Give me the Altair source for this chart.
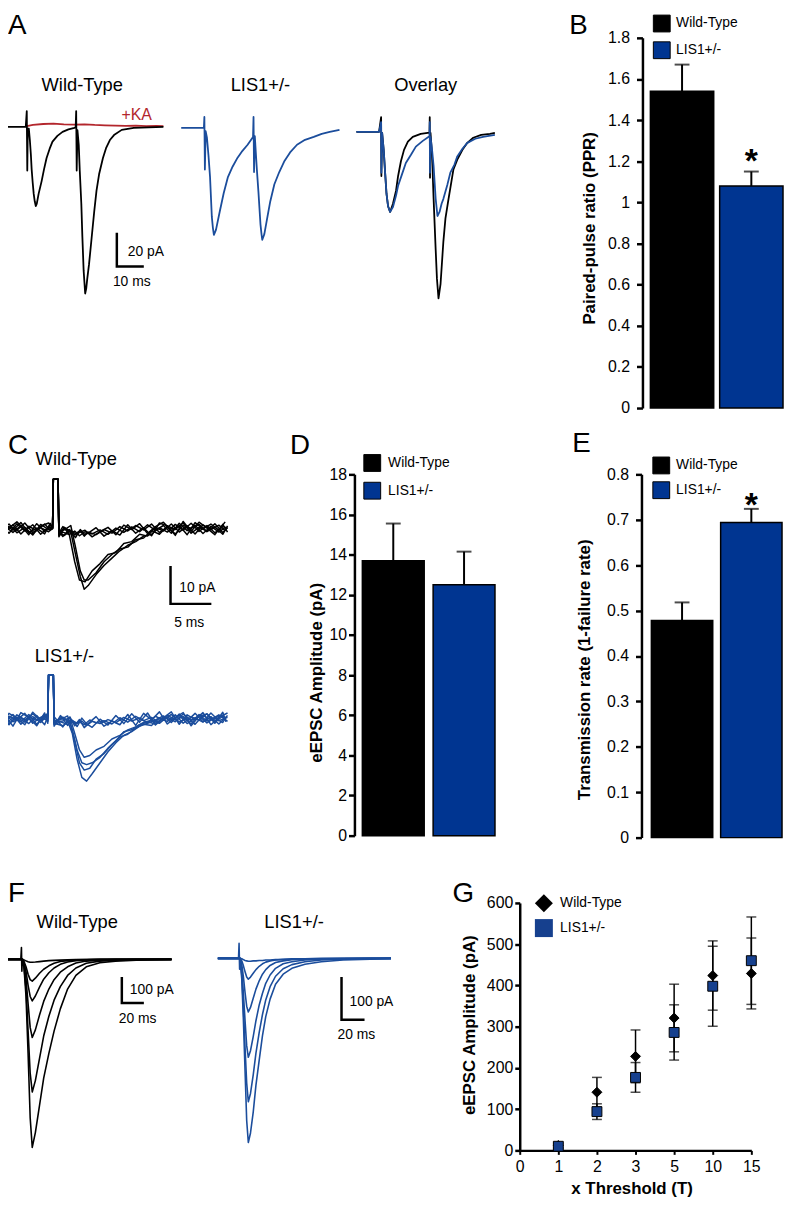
import altair as alt
import pandas as pd

FONT = "Liberation Sans"
W, H = 784, 1197          # chart size (chart origin sits at page (8, 8))
M = 8                     # page margin

BLACK = "#000000"
TRACE_BLUE = "#1b4d9c"
BAR_BLUE = "#003591"
MARK_BLUE = "#16408e"
KA_RED = "#b3262c"

GROUPS = ["Wild-Type", "LIS1+/-"]

# ---------------- Panel A : paired-pulse traces (ms, pA) ----------------
A_WT_T = [0, 9.2, 9.6, 9.8, 10.0, 10.4, 10.8, 11.2, 11.5, 11.9, 12.3, 12.7, 13.1, 13.5, 14.2, 15.4,
          16.3, 17.3, 18.5, 19.6, 21.5, 23.5, 25.8, 28.1, 28.6, 28.8, 29.0, 29.3, 29.8, 30.2, 30.8,
          31.2, 31.7, 32.3, 32.7, 33.1, 33.8, 34.8, 35.8, 36.7, 37.7, 39.2, 40.4, 41.9, 43.5, 46.5,
          51.2, 62.7]
A_WT_I = [0, 0, 9.7, -26.7, -1, -1, -8, -17, -26, -34, -41, -45.5, -48.5, -47, -41, -33,
          -26, -19, -13.3, -9, -5.5, -3, -1.5, -0.6, -0.3, 9.7, -26.7, -2, -11, -27, -47,
          -67, -88, -102, -99, -93, -84, -68, -52, -39, -29, -19, -13, -8, -5, -1.8,
          -0.6, 0]
A_KA_T = [9.6, 12, 16, 20, 24, 28, 32, 36, 40, 44, 48, 52, 56, 60, 62.7]
A_KA_I = [0.5, 1.2, 1.8, 2.0, 1.6, 1.4, 1.6, 1.2, 1.0, 0.8, 0.6, 0.8, 0.5, 0.6, 0.5]
A_LIS_T = [0, 8.8, 9.0, 9.2, 9.5, 10.0, 10.6, 11.2, 11.9, 12.3, 12.7, 13.5, 15.0, 16.5, 18.1, 20.0,
           21.9, 23.8, 25.8, 27.9, 28.1, 28.3, 28.6, 28.8, 29.4, 30.0, 30.8, 31.2, 31.5, 32.3, 33.5,
           34.6, 36.2, 38.1, 40.0, 42.3, 45.0, 48.1, 51.5, 54.6, 57.7, 61.5]
A_LIS_I = [0, 0, 6.7, -25.5, -2, -6, -17, -30, -54.5, -61, -65.5, -62.4, -51, -40, -30.3, -23.6,
           -18.2, -14, -10.3, -5.5, 6.7, -27, -5, -10.3, -25.5, -39, -59, -65, -68.5, -65, -54.5,
           -45, -34.5, -27, -20.6, -15, -10.3, -7.3, -5.5, -3.6, -2.4, -1.2]
A_OV_WT_T = [0, 8.8, 9.6, 9.7, 10.0, 10.6, 11.2, 11.7, 12.3, 13.1, 14.2, 15.4, 16.2, 17.3, 18.5, 20.0,
             21.9, 25.0, 27.7, 28.4, 28.5, 28.6, 28.8, 29.4, 30.0, 30.8, 31.3, 31.9, 32.7, 33.8, 34.6,
             35.8, 37.7, 39.2, 41.2, 43.1, 45.4, 48.5, 51.9, 53.8]
A_OV_WT_I = [0, 0, 9, -27, -0.6, -11, -26, -38, -45.5, -49, -44, -36, -27, -18, -11, -6,
             -3, -1.2, -0.6, -0.6, 9, -28, -0.6, -14, -41, -72, -90, -102, -93, -67, -53,
             -41, -23, -17, -11, -6.7, -3.6, -1.8, -1.2, -0.6]
A_OV_LIS_T = [0, 8.8, 9.6, 9.7, 10.0, 10.6, 11.2, 11.7, 12.3, 13.1, 14.2, 15.4, 16.2, 17.7, 19.2, 21.2,
              23.1, 25.8, 28.1, 28.4, 28.5, 28.6, 28.8, 29.4, 30.0, 30.8, 31.5, 32.3, 33.1, 33.8, 35.4,
              36.5, 38.1, 39.2, 41.2, 43.1, 46.2, 49.2, 53.8]
A_OV_LIS_I = [0, 0, 6, -25, -0.6, -11, -26, -38, -45.5, -49, -46, -39, -33, -26, -19, -14,
              -9, -5.5, -3, -3, 6, -25, -3, -11, -21, -41, -51.5, -49, -44, -41, -32,
              -25, -20, -15, -10.3, -6.7, -4.2, -3, -1.8]

# ---------------- Panel B : paired-pulse ratio ----------------
B_MEAN = [1.54, 1.08]
B_SEM = [0.13, 0.07]
B_STAR = ["LIS1+/-"]
B_TICKS = [0, 0.2, 0.4, 0.6, 0.8, 1, 1.2, 1.4, 1.6, 1.8]

# ---------------- Panel C : minimal stimulation sweeps (ms, pA) ----------------
C_TA = [0, 1, 2, 3, 4, 5, 6, 6.5, 6.6, 7.2, 7.3, 8, 8.8, 9.4, 10, 10.5, 11, 12, 13, 14, 15, 16, 17,
        18, 19, 20, 21, 22, 23, 24, 25, 26, 27, 28, 28.6]
C_TB = [0.5, 1.5, 2.5, 3.5, 4.5, 5.5, 6.2, 6.5, 6.6, 7.2, 7.3, 7.8, 8.6, 9.3, 9.9, 10.6, 11.5, 12.5,
        13.5, 14.5, 15.5, 16.5, 17.5, 18.5, 19.5, 20.5, 21.5, 22.5, 23.5, 24.5, 25.5, 26.5, 27.5, 28.3]
C_WT_S1 = [0.8, -1.2, 1.4, -0.6, 1.1, -1.5, 0.5, 0.2, 13.5, 13.5, -1.5, 0.4, -0.8, -7, -13, -16.5,
           -15.5, -12.5, -10, -8, -6, -4.5, -3.5, -2, -1.5, 0.3, -0.9, 1.2, -0.4, 1.5, -0.7, 0.9,
           -1.1, 0.6, 0.2]
C_WT_S2 = [-0.9, 1.1, -1.4, 0.7, -0.5, 1.3, -0.3, 0, 13.5, 13.5, -1.2, 0.6, -1.4, -9, -14, -14.5,
           -11.5, -9.5, -7, -6.5, -4, -3.5, -1.5, -2, 0.4, -0.6, 1.3, -0.9, 0.8, -1.4, 1.1, -0.2,
           1.0, -0.5]
C_WT_S3 = [-1.3, 0.6, -0.4, 1.6, -1.0, 0.3, -0.8, 0.1, 13.5, 13.5, -0.8, -0.3, 0.9, -5, -11.5, -14,
           -14, -12, -9, -7, -5.5, -5, -3, -2.5, -0.5, -1.5, 0.8, -0.2, 1.6, -1.2, 0.4, -0.6, 1.4,
           -1.0, 0.3]
C_WT_S4 = [0.6, -1.0, 0.9, -1.6, 1.4, -0.7, 1.0, 0.2, 13.5, 13.5, -1.8, -0.9, -1.6, -0.6, -1.9,
           -0.8, -1.4, -0.3, -1.5, 0.2, -1.0, 0.5, -0.8, 1.1, -0.4, 0.9, -1.2, 1.5, -0.5, 1.0, -1.3,
           0.7, -0.9, 0.4]
C_WT_S5 = [-0.5, 1.3, -1.1, 0.4, -1.7, 1.2, -0.2, 0.3, 13.5, 13.5, -1.0, -1.8, -0.4, -1.3, -0.5,
           -2.0, -0.9, -1.6, -0.2, -1.2, 0.6, -0.6, 0.9, -0.3, 1.3, -1.0, 0.4, -1.4, 0.9, 0.1, 1.2,
           -0.8, 0.5, -1.5, 0.8]
C_WT_S6 = [1.2, -0.4, 1.7, -1.1, 0.2, -1.4, 1.5, 0.1, 13.5, 13.5, -0.7, -2.1, -0.2, -1.7, -1.0, -0.4,
           -2.2, -0.8, 0.4, -1.6, 1.0, -0.2, 1.4, -1.3, 0.6, 1.8, -0.5, 0.9, -1.6, 1.7, 0.0, 1.3,
           -0.4, 1.9]
C_WT_S7 = [-1.8, 0.2, 1.9, -0.3, -1.4, 0.7, 1.6, 0.4, 13.5, 13.5, -2.2, 0.3, -1.1, -2.4, -0.2, -1.5,
           -1.2, 0.3, -2.0, -0.5, -1.7, 1.1, -1.2, 0.3, -1.9, 1.6, 0.8, -1.8, 2.0, -0.7, 1.8, 0.2,
           -1.6, 1.2, -0.9]
C_LA = [0, 1, 2, 3, 4, 5, 5.9, 6.0, 6.6, 6.7, 7.5, 8.4, 9.0, 9.6, 10.2, 10.8, 11.5, 12.5, 13.5, 14.5,
        15.5, 16.5, 17.5, 18.5, 19.5, 20.5, 21.5, 22.5, 23.5, 24.5, 25.5, 26.5, 27.5, 28.6]
C_LB = [0.5, 1.5, 2.5, 3.5, 4.5, 5.5, 5.9, 6.0, 6.6, 6.7, 7.8, 8.7, 9.3, 9.9, 10.5, 11.2, 12, 13, 14,
        15, 16, 17, 18, 19, 20, 21, 22, 23, 24, 25, 26, 27, 28, 28.4]
C_LIS_S1 = [1.0, -1.3, 0.5, -0.9, 1.4, -0.6, 0.8, 12, 12, -1.0, 0.3, -0.5, -4, -11, -16, -17, -15,
            -12, -9, -6.5, -4.5, -3.5, -2, -1.2, -0.3, 0.8, -1.0, 1.3, -0.6, 1.5, -0.8, 0.6, -1.4, 0.9]
C_LIS_S2 = [-0.7, 1.2, -1.5, 0.6, -0.4, 1.1, 0.2, 12, 12, -1.4, 0.5, -0.9, -6, -12, -14, -13.5, -11,
            -9.5, -7, -5, -4.2, -2.5, -1.5, -1.8, 0.2, -0.7, 1.1, -1.2, 0.5, -0.3, 1.4, -0.9, 0.7, -0.2]
C_LIS_S3 = [-1.1, 0.7, -0.3, 1.5, -1.2, 0.4, -0.5, 12, 12, -0.6, -0.2, 0.8, -3, -8.5, -12, -12.5, -12,
            -10.5, -8, -6, -3.5, -3, -1.6, -0.8, -1.4, 0.6, -0.4, 0.9, -1.3, 0.2, -0.9, 1.6, -0.5, 0.4]
C_LIS_S4 = [1.4, -0.8, 0.3, -1.3, 0.9, -1.6, 0.6, 12, 12, -0.9, -0.6, 0.4, -4, -8.5, -10.5, -10, -8.5,
            -7.5, -5.5, -4.5, -3, -2.2, -1, -0.4, -1.2, 0.5, -0.8, 1.3, -0.3, 0.8, -1.1, 0.3, 1.0, -0.6]
C_LIS_S5 = [0.4, -1.6, 1.1, -0.2, 0.6, -1.0, 1.2, 12, 12, -1.6, -0.8, -1.5, -0.5, -1.2, -0.6, -1.8,
            -0.7, -1.3, -0.2, -1.0, 0.4, -0.6, 0.2, -1.1, 0.7, -0.4, 1.2, -0.9, 0.3, -1.5, 0.9, -0.2,
            1.1, -0.7]
C_LIS_S6 = [-1.4, 0.3, -0.8, 1.2, -1.5, 0.9, -0.7, 12, 12, -1.2, -1.9, -0.4, -1.3, -0.8, -1.6, -0.3,
            -1.1, -0.5, -1.4, 0.3, -0.9, 0.7, -0.5, 0.4, -1.2, 1.0, -0.3, 0.6, -1.4, 1.2, -0.6, 0.2,
            -1.0, 0.5]
C_LIS_S7 = [-1.9, 1.5, 0.2, -1.6, 1.8, -0.3, 1.5, 12, 12, -2.0, 0.9, -1.8, -0.4, -2.1, 0.2, -1.4,
            -2.3, -0.1, -1.7, 0.9, -1.3, 1.4, -0.9, 1.6, -1.7, 0.3, 1.9, -1.5, 1.1, -0.2, 1.7, -1.6,
            0.4, 1.6]
C_LIS_S8 = [0.9, -2.0, 1.7, 0.4, -1.9, 1.6, -1.2, 12, 12, 0.6, -2.2, 0.5, -1.9, -0.2, -2.4, -0.9,
            0.6, -2.0, -0.6, -1.6, 1.2, -1.8, 1.5, -0.3, 1.9, -1.4, 0.4, 1.7, -1.9, 0.7, 1.3, -1.2,
            1.8, -0.8]

# ---------------- Panel D / E : bar summaries ----------------
D_MEAN = [13.7, 12.5]
D_SEM = [1.85, 1.65]
D_TICKS = [0, 2, 4, 6, 8, 10, 12, 14, 16, 18]
E_MEAN = [0.478, 0.694]
E_SEM = [0.04, 0.03]
E_STAR = ["LIS1+/-"]
E_TICKS = [0, 0.1, 0.2, 0.3, 0.4, 0.5, 0.6, 0.7, 0.8]

# ---------------- Panel F : input-output sweeps (ms, pA) ----------------
F_WT_T = [0, 19, 19.6, 20, 20.5, 22, 24, 26, 28, 30, 33, 37, 41, 46, 51, 57, 64, 72, 82, 95, 110, 130, 164]
F_WT_S6 = [0, 0, 48, -48, -4, -30, -150, -380, -640, -760, -700, -590, -480, -380, -290, -200, -120,
           -65, -30, -14, -7, -3, 0]
F_WT_S5 = [0, 0, 0, 0, 0, -25, -120, -290, -460, -536, -490, -400, -310, -230, -165, -110, -65, -35,
           -16, -7, -3, -1, 0]
F_WT_S4 = [0, 0, 0, 0, 0, -18, -80, -180, -275, -316, -285, -225, -170, -120, -82, -52, -30, -15, -7,
           -3, -1, 0, 0]
F_WT_S3 = [0, 0, 0, 0, 0, -12, -50, -105, -150, -168, -148, -112, -80, -54, -35, -20, -11, -5, -2, -1,
           0, 0, 0]
F_WT_S2 = [0, 0, 0, 0, 0, -8, -30, -60, -82, -88, -76, -56, -40, -26, -16, -9, -5, -2, -1, 0, 0, 0, 0]
F_WT_S1 = [0, 0, 0, 0, 0, -2, -6, -10, -12, -12, -11, -9, -7, -5, -4, -3, -2, -1, -1, 0, 0, 0, 0]
F_LIS_T = [0, 19, 19.5, 20, 20.5, 22, 23.5, 25, 26.5, 28, 30, 32.5, 35, 38, 41, 44, 48, 53, 60, 68, 80,
           95, 115, 140, 159]
F_LIS_S6 = [0, 0, 36, -26, -5, -50, -150, -270, -390, -443, -420, -370, -305, -245, -186, -140, -98,
            -62, -38, -24, -14, -8, -4, -2, 0]
F_LIS_S5 = [0, 0, 0, 0, 0, -40, -120, -215, -300, -345, -325, -280, -228, -178, -135, -100, -68, -43,
            -25, -15, -8, -4, -2, -1, 0]
F_LIS_S4 = [0, 0, 0, 0, 0, -28, -85, -150, -210, -238, -222, -188, -150, -112, -84, -60, -40, -24, -13,
            -8, -4, -2, -1, 0, 0]
F_LIS_S3 = [0, 0, 0, 0, 0, -15, -45, -82, -115, -129, -118, -96, -74, -54, -38, -27, -17, -10, -6, -3,
            -2, -1, 0, 0, 0]
F_LIS_S2 = [0, 0, 0, 0, 0, -6, -18, -32, -45, -50, -45, -36, -27, -19, -13, -9, -6, -4, -2, -1, -1, 0,
            0, 0, 0]
F_LIS_S1 = [0, 0, 0, 0, 0, -1, -3, -5, -6, -7, -7, -6, -6, -5, -5, -4, -4, -3, -3, -2, -2, -1, -1, 0, 0]

# ---------------- Panel G : input-output curve ----------------
G_XDOMAIN = ["0", "1", "2", "3", "5", "10", "15"]
G_X = ["1", "2", "3", "5", "10", "15"]
G_WT_MEAN = [12, 141, 228, 321, 424, 429]
G_WT_SEM = [6, 36, 64, 82, 84, 86]
G_LIS_MEAN = [10, 94, 177, 286, 398, 460]
G_LIS_SEM = [5, 19, 36, 67, 97, 106]
G_TICKS = [0, 100, 200, 300, 400, 500, 600]

# scale-bar definitions (corner time, corner current, length ms, length pA)
SB_A = (44.6, -85.5, 10, 20)
SB_C = (21.4, -20.5, 5, 10)
SB_F_WT = (116.2, -176, 20, 100)
SB_F_LIS = (113.6, -147.6, 20, 100)

TITLE_SIZE = 17


# ======================= helpers =======================
def trace_scales(x0, y0, px_ms, px_pa, tmax, imin, imax):
    xs = alt.Scale(domain=[0, tmax], range=[x0 - M, x0 - M + tmax * px_ms], nice=False, zero=False)
    ys = alt.Scale(domain=[imin, imax], range=[y0 - M - imin * px_pa, y0 - M - imax * px_pa],
                   nice=False, zero=False)
    return xs, ys


def traces(sweeps, color, xs, ys, width=1.6):
    frames = []
    for k, (T, I) in enumerate(sweeps):
        assert len(T) == len(I), (color, k, len(T), len(I))
        frames.append(pd.DataFrame({"t": T, "I": I, "i": list(range(len(T))), "sweep": k}))
    df = pd.concat(frames, ignore_index=True)
    return alt.Chart(df).mark_line(color=color, strokeWidth=width, strokeJoin="round").encode(
        x=alt.X("t:Q", scale=xs, axis=None),
        y=alt.Y("I:Q", scale=ys, axis=None),
        detail="sweep:N",
        order="i:Q",
    )


def scale_bar(sb, xs, ys):
    t0, i0, dt, di = sb
    df = pd.DataFrame({"t": [t0, t0, t0 + dt], "I": [i0 + di, i0, i0], "i": [0, 1, 2]})
    return alt.Chart(df).mark_line(color="black", strokeWidth=2.5, strokeJoin="miter",
                                   strokeCap="square").encode(
        x=alt.X("t:Q", scale=xs, axis=None), y=alt.Y("I:Q", scale=ys, axis=None), order="i:Q")


def text(s, x, y, size, weight="normal", color="black", align="center"):
    return alt.Chart(pd.DataFrame({"s": [s]})).mark_text(
        font=FONT, fontSize=size, fontWeight=weight, color=color, align=align, baseline="alphabetic"
    ).encode(text="s:N", x=alt.value(x - M), y=alt.value(y - M))


def legend(x, y, off, rowpad, size=289, stype=None):
    kw = dict(orient="none", legendX=x - M, legendY=y - M, title=None, symbolSize=size,
              symbolStrokeColor="black", symbolStrokeWidth=1, symbolOpacity=1,
              labelFontSize=14, labelOffset=off, rowPadding=rowpad, padding=0)
    if stype:
        kw["symbolType"] = stype
    return alt.Legend(**kw)


def left_axis(axis_x, ticks, title, title_xy, lab_pad, tick_size=6):
    return alt.Axis(orient="left", offset=-(axis_x - M), values=ticks, format="~r",
                    domainWidth=2.5, tickWidth=2.5, tickSize=tick_size, labelFontSize=16,
                    labelPadding=lab_pad, grid=False, title=title, titleFontSize=TITLE_SIZE,
                    titleFontWeight="bold", titleAngle=270, titleAlign="center",
                    titleBaseline="middle", titleX=title_xy[0] - axis_x, titleY=title_xy[1] - M)


def bar_panel(means, sems, star, xr, pad_in, ydom, yr, axis, leg, star_dy):
    df = pd.DataFrame({"g": GROUPS, "m": means, "hi": [m + s for m, s in zip(means, sems)]})
    xs = alt.Scale(domain=GROUPS, range=[xr[0] - M, xr[1] - M], paddingInner=pad_in, paddingOuter=0)
    ys = alt.Scale(domain=ydom, range=[yr[0] - M, yr[1] - M], nice=False, zero=True)
    X = alt.X("g:N", scale=xs, axis=None, sort=GROUPS)
    bars = alt.Chart(df).mark_bar(stroke="black", strokeWidth=1.5).encode(
        x=X, y=alt.Y("m:Q", scale=ys, axis=axis),
        color=alt.Color("g:N", scale=alt.Scale(domain=GROUPS, range=[BLACK, BAR_BLUE]), legend=leg))
    err = alt.Chart(df).mark_rule(color="black", strokeWidth=2).encode(
        x=X, y=alt.Y("m:Q", scale=ys, axis=axis), y2="hi:Q")
    cap = alt.Chart(df).mark_tick(color="black", thickness=2, size=15).encode(
        x=X, y=alt.Y("hi:Q", scale=ys, axis=axis))
    layers = [bars, err, cap]
    if star:
        sdf = df[df["g"].isin(star)]
        layers.append(alt.Chart(sdf).mark_text(text="*", font=FONT, fontSize=34, fontWeight="bold",
                                               baseline="alphabetic", dy=star_dy).encode(
            x=X, y=alt.Y("hi:Q", scale=ys, axis=axis)))
    return alt.layer(*layers)


# ======================= panels =======================
panels = []

# A: Wild-Type with +KA
xs, ys = trace_scales(2, 122, 2.6, 1.65, 70, -110, 20)
panels.append(alt.layer(
    traces([(A_KA_T, A_KA_I)], KA_RED, xs, ys, 1.8),
    traces([(A_WT_T, A_WT_I)], BLACK, xs, ys, 1.8),
    scale_bar(SB_A, xs, ys)))
# A: LIS1+/-
xs, ys = trace_scales(183, 123, 2.6, 1.65, 70, -110, 20)
panels.append(traces([(A_LIS_T, A_LIS_I)], TRACE_BLUE, xs, ys, 1.8))
# A: overlay
xs, ys = trace_scales(360, 127, 2.6, 1.65, 70, -110, 20)
panels.append(alt.layer(
    traces([(A_OV_WT_T, A_OV_WT_I)], BLACK, xs, ys, 1.8),
    traces([(A_OV_LIS_T, A_OV_LIS_I)], TRACE_BLUE, xs, ys, 1.8)))

# B
panels.append(bar_panel(
    B_MEAN, B_SEM, B_STAR, (657, 791), 0.0857, [0, 1.8], (406, 32),
    left_axis(649, B_TICKS, "Paired-pulse ratio (PPR)", (596, 224), 7),
    legend(659.5, 8.5, 5.5, 5, stype="square"), 0))

# C: Wild-Type and LIS1+/-
xs, ys = trace_scales(1, 528, 8, 3.7, 30, -25, 15)
panels.append(alt.layer(
    traces([(C_TB, C_WT_S4), (C_TA, C_WT_S5), (C_TB, C_WT_S6), (C_TA, C_WT_S7), (C_TA, C_WT_S1),
            (C_TB, C_WT_S2), (C_TA, C_WT_S3)], BLACK, xs, ys, 1.5),
    scale_bar(SB_C, xs, ys)))
xs, ys = trace_scales(1, 720, 8, 3.7, 30, -25, 15)
panels.append(traces([(C_LA, C_LIS_S5), (C_LB, C_LIS_S6), (C_LA, C_LIS_S7), (C_LB, C_LIS_S8),
                      (C_LA, C_LIS_S1), (C_LB, C_LIS_S2), (C_LA, C_LIS_S3), (C_LB, C_LIS_S4)],
                     TRACE_BLUE, xs, ys, 1.5))

# D
panels.append(bar_panel(
    D_MEAN, D_SEM, [], (366, 500), 0.126, [0, 18], (838, 473),
    left_axis(358, D_TICKS, "eEPSC Amplitude (pA)", (320, 673), 2),
    legend(367, 452.5, 7, 6, stype="square"), 0))

# E
panels.append(bar_panel(
    E_MEAN, E_SEM, E_STAR, (658, 790), 0.114, [0, 0.8], (840, 473),
    left_axis(648, E_TICKS, "Transmission rate (1-failure rate)", (590, 670), 7),
    legend(659, 455, 6, 3, stype="square"), 7))

# F
xs, ys = trace_scales(1, 963, 1.05, 0.25, 170, -800, 60)
panels.append(alt.layer(
    traces([(F_WT_T, F_WT_S1), (F_WT_T, F_WT_S2), (F_WT_T, F_WT_S3), (F_WT_T, F_WT_S4),
            (F_WT_T, F_WT_S5), (F_WT_T, F_WT_S6)], BLACK, xs, ys, 1.6),
    scale_bar(SB_F_WT, xs, ys)))
xs, ys = trace_scales(220, 962, 1.1, 0.42, 170, -480, 60)
panels.append(alt.layer(
    traces([(F_LIS_T, F_LIS_S1), (F_LIS_T, F_LIS_S2), (F_LIS_T, F_LIS_S3), (F_LIS_T, F_LIS_S4),
            (F_LIS_T, F_LIS_S5), (F_LIS_T, F_LIS_S6)], TRACE_BLUE, xs, ys, 1.6),
    scale_bar(SB_F_LIS, xs, ys)))

# G
g_rows = []
for grp, means, sems in [(GROUPS[0], G_WT_MEAN, G_WT_SEM), (GROUPS[1], G_LIS_MEAN, G_LIS_SEM)]:
    for xv, m, s in zip(G_X, means, sems):
        g_rows.append({"g": grp, "x": xv, "m": m, "lo": m - s, "hi": m + s})
gdf = pd.DataFrame(g_rows)
gx = alt.Scale(type="point", domain=G_XDOMAIN, range=[525 - M, 759 - M], padding=0)
gy = alt.Scale(domain=[0, 600], range=[1156 - M, 906 - M], nice=False, zero=True)
gx_axis = alt.Axis(orient="bottom", offset=(1156 - M) - H, domainWidth=2.5, tickWidth=2,
                   tickSize=4, labelFontSize=16, labelPadding=4, labelAngle=0, grid=False,
                   title="x Threshold (T)", titleFontSize=TITLE_SIZE, titleFontWeight="bold",
                   titleAngle=0, titleAlign="center", titleBaseline="middle",
                   titleX=638 - M, titleY=1195 - 1156)
gy_axis = left_axis(525, G_TICKS, "eEPSC Amplitude (pA)", (474, 1029), 2, tick_size=5)
g_leg = legend(539.4, 896.4, 6.4, 1, size=330)
GX = alt.X("x:N", scale=gx, axis=gx_axis)
g_err = alt.Chart(gdf).mark_rule(color="black", strokeWidth=1.5).encode(
    x=GX, y=alt.Y("lo:Q", scale=gy, axis=gy_axis), y2="hi:Q")
g_cap_hi = alt.Chart(gdf).mark_tick(color="black", thickness=1.5, size=10).encode(
    x=GX, y=alt.Y("hi:Q", scale=gy, axis=gy_axis))
g_cap_lo = alt.Chart(gdf).mark_tick(color="black", thickness=1.5, size=10).encode(
    x=GX, y=alt.Y("lo:Q", scale=gy, axis=gy_axis))
g_pts = alt.Chart(gdf).mark_point(filled=True, stroke="black", strokeWidth=1, size=100,
                                  opacity=1).encode(
    x=GX,
    y=alt.Y("m:Q", scale=gy, axis=gy_axis),
    color=alt.Color("g:N", scale=alt.Scale(domain=GROUPS, range=[BLACK, MARK_BLUE]), legend=g_leg),
    shape=alt.Shape("g:N", scale=alt.Scale(domain=GROUPS, range=["diamond", "square"]), legend=g_leg),
    order=alt.Order("g:N", sort="descending"),
)
panels.append(alt.layer(g_err, g_cap_hi, g_cap_lo, g_pts))

# ======================= text annotations (page coordinates) =======================
texts = [
    text("A", 8, 28, 28, align="left"), text("B", 575, 28, 28, align="left"),
    text("C", 8, 452, 28, align="left"), text("D", 293, 452, 28, align="left"),
    text("E", 578, 450, 28, align="left"), text("F", 8, 905, 28, align="left"),
    text("G", 457, 905, 28, align="left"),
    text("Wild-Type", 83, 86, 18.5), text("LIS1+/-", 263, 86, 18.5), text("Overlay", 430, 86, 18.5),
    text("+KA", 138, 115, 16, color=KA_RED),
    text("20 pA", 129, 252, 14, align="left"), text("10 ms", 133, 283, 14),
    text("Wild-Type", 77, 464, 18.5), text("LIS1+/-", 65, 663, 18.5),
    text("10 pA", 181, 592, 14, align="left"), text("5 ms", 191, 627, 14),
    text("Wild-Type", 78, 931, 18.5), text("LIS1+/-", 297, 931, 18.5),
    text("100 pA", 131, 998, 14, align="left"), text("20 ms", 139, 1027, 14),
    text("100 pA", 353, 1010, 14, align="left"), text("20 ms", 360, 1043, 14),
]

chart = alt.layer(*panels, *texts).resolve_scale(
    x="independent", y="independent", color="independent", shape="independent"
).properties(
    width=W, height=H, padding=0, autosize=alt.AutoSizeParams(type="none")
).configure_view(stroke=None).configure_axis(
    labelFont=FONT, titleFont=FONT, labelColor="black", titleColor="black",
    domainColor="black", tickColor="black", grid=False
).configure_legend(labelFont=FONT, labelColor="black")

chart.save("out.html", embed_options={"renderer": "svg", "actions": False})
